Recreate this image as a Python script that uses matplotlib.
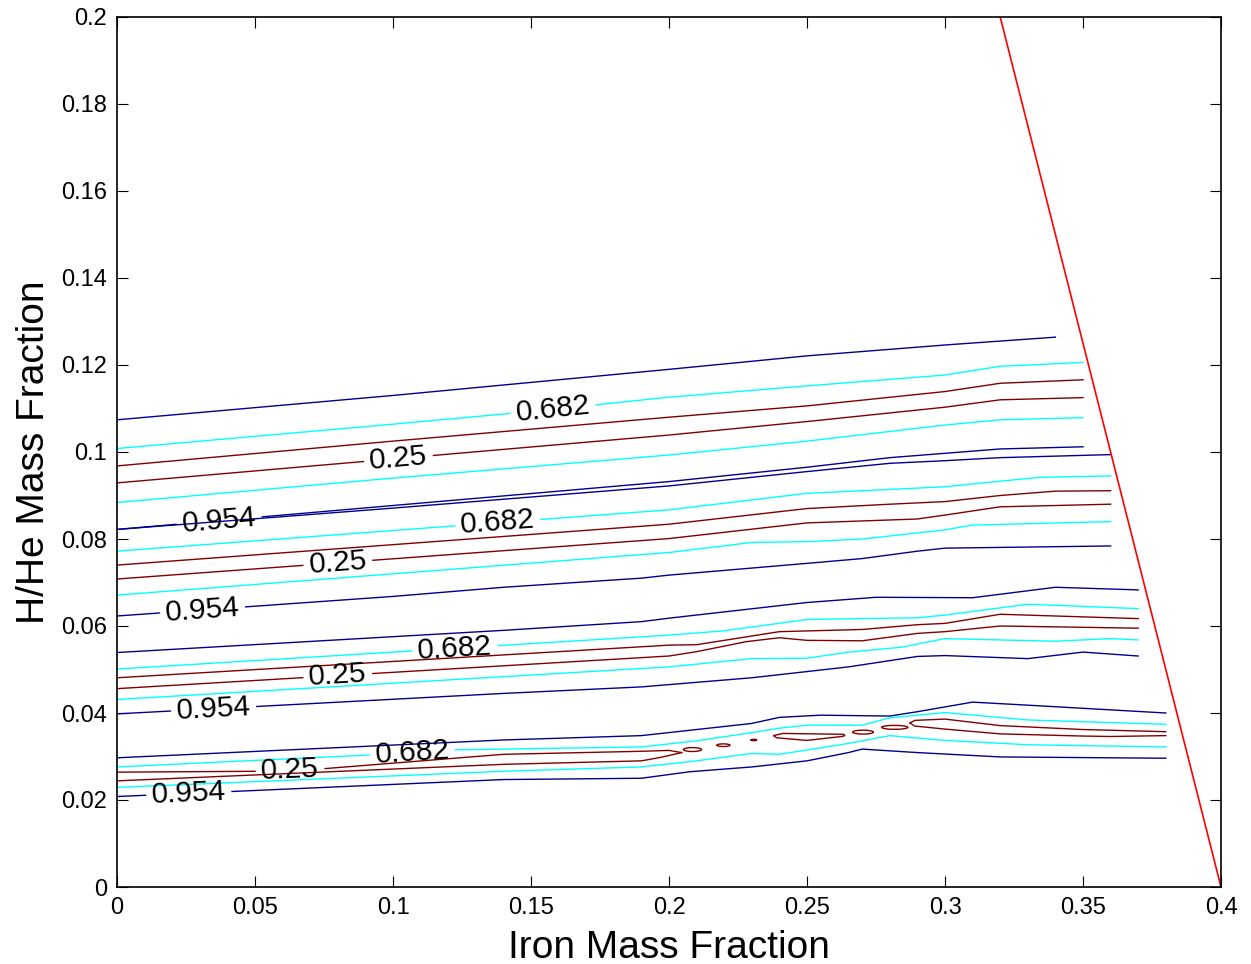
import numpy as np
import matplotlib
matplotlib.use('Agg')
import matplotlib.pyplot as plt
from matplotlib.patches import Ellipse, Polygon

# contour levels and their colours
levels = ['0.954', '0.682', '0.25']
level_colors = {'0.954': '#00008f', '0.682': '#00ffff', '0.25': '#800000'}

# group 1 (top band)
g1_b1_x = [0, 0.10, 0.20, 0.25, 0.30, 0.34]
g1_b1_y = [0.1074, 0.1130, 0.1190, 0.1221, 0.1246, 0.1264]
g1_c1_x = [0, 0.10, 0.15, 0.20, 0.25, 0.30, 0.32, 0.35]
g1_c1_y = [0.1008, 0.1064, 0.1093, 0.1126, 0.1152, 0.1177, 0.1197, 0.1206]
g1_r1_x = [0, 0.10, 0.20, 0.25, 0.30, 0.32, 0.35]
g1_r1_y = [0.0968, 0.1025, 0.1080, 0.1106, 0.1139, 0.1158, 0.1166]
g1_r2_x = [0, 0.10, 0.20, 0.25, 0.30, 0.32, 0.35]
g1_r2_y = [0.0929, 0.0984, 0.1039, 0.1070, 0.1103, 0.1120, 0.1125]
g1_c2_x = [0, 0.10, 0.20, 0.25, 0.30, 0.32, 0.35]
g1_c2_y = [0.0884, 0.0940, 0.0993, 0.1025, 0.1062, 0.1074, 0.1079]
g1_b2_x = [0, 0.10, 0.20, 0.25, 0.28, 0.30, 0.32, 0.35]
g1_b2_y = [0.0822, 0.0877, 0.0932, 0.0965, 0.0987, 0.0997, 0.1007, 0.1012]

# group 2
g2_b1_x = [0, 0.10, 0.20, 0.25, 0.28, 0.30, 0.32, 0.36]
g2_b1_y = [0.0822, 0.0871, 0.0922, 0.0955, 0.0974, 0.0980, 0.0987, 0.0994]
g2_c1_x = [0, 0.20, 0.25, 0.30, 0.32, 0.335, 0.36]
g2_c1_y = [0.0772, 0.0867, 0.0905, 0.0920, 0.0933, 0.0942, 0.0945]
g2_r1_x = [0, 0.20, 0.25, 0.28, 0.30, 0.32, 0.34, 0.36]
g2_r1_y = [0.0740, 0.0834, 0.0870, 0.0880, 0.0886, 0.0900, 0.0910, 0.0911]
g2_r2_x = [0, 0.20, 0.25, 0.29, 0.30, 0.32, 0.36]
g2_r2_y = [0.0708, 0.0801, 0.0837, 0.0846, 0.0855, 0.0874, 0.0880]
g2_c2_x = [0, 0.20, 0.23, 0.25, 0.27, 0.30, 0.31, 0.36]
g2_c2_y = [0.0671, 0.0769, 0.0792, 0.0794, 0.0800, 0.0821, 0.0832, 0.0840]
g2_b2_x = [0, 0.10, 0.14, 0.19, 0.20, 0.25, 0.27, 0.29, 0.30, 0.36]
g2_b2_y = [0.0623, 0.0668, 0.0689, 0.0710, 0.0717, 0.0744, 0.0755, 0.0772, 0.0779, 0.0784]

# group 3
g3_b1_x = [0, 0.14, 0.19, 0.20, 0.25, 0.275, 0.31, 0.34, 0.37]
g3_b1_y = [0.0539, 0.0590, 0.0610, 0.0618, 0.0654, 0.0666, 0.0665, 0.0689, 0.0683]
g3_c1_x = [0, 0.20, 0.22, 0.25, 0.29, 0.30, 0.33, 0.37]
g3_c1_y = [0.0501, 0.0579, 0.0589, 0.0615, 0.0619, 0.0625, 0.0650, 0.0640]
g3_r1_x = [0, 0.20, 0.21, 0.24, 0.27, 0.29, 0.30, 0.32, 0.35, 0.37]
g3_r1_y = [0.0481, 0.0556, 0.0557, 0.0587, 0.0592, 0.0603, 0.0606, 0.0627, 0.0621, 0.0617]
g3_r2_x = [0, 0.20, 0.21, 0.228, 0.24, 0.25, 0.27, 0.29, 0.30, 0.32, 0.37]
g3_r2_y = [0.0456, 0.0531, 0.0541, 0.0564, 0.0573, 0.0567, 0.0566, 0.0583, 0.0587, 0.0600, 0.0595]
g3_c2_x = [0, 0.20, 0.23, 0.25, 0.265, 0.284, 0.30, 0.34, 0.36, 0.37]
g3_c2_y = [0.0431, 0.0506, 0.0525, 0.0526, 0.0540, 0.0551, 0.0571, 0.0565, 0.0571, 0.0568]
g3_b2_x = [0, 0.14, 0.19, 0.23, 0.265, 0.29, 0.30, 0.33, 0.35, 0.37]
g3_b2_y = [0.0398, 0.0445, 0.0460, 0.0481, 0.0506, 0.0530, 0.0532, 0.0525, 0.0540, 0.0531]

# group 4 (bottom band, 0.25 region broken into pieces)
g4_b1_x = [0, 0.14, 0.19, 0.20, 0.23, 0.24, 0.255, 0.28, 0.29, 0.31, 0.33, 0.38]
g4_b1_y = [0.0297, 0.0338, 0.0348, 0.0355, 0.0376, 0.0390, 0.0395, 0.0393, 0.0403, 0.0425, 0.0418, 0.0400]
g4_c1_x = [0, 0.09, 0.12, 0.19, 0.21, 0.23, 0.24, 0.25, 0.27, 0.28, 0.30, 0.33, 0.38]
g4_c1_y = [0.0276, 0.0303, 0.0315, 0.0322, 0.0336, 0.0355, 0.0365, 0.0372, 0.0372, 0.0389, 0.0401, 0.0384, 0.0374]
g4_r1a_x = [0, 0.05, 0.075, 0.14, 0.19, 0.20, 0.2046]
g4_r1a_y = [0.0264, 0.0266, 0.0272, 0.0305, 0.0312, 0.0314, 0.0309]
g4_r2a_x = [0, 0.14, 0.19, 0.197, 0.2046]
g4_r2a_y = [0.0244, 0.0282, 0.0290, 0.0298, 0.0309]
g4_r1b_x = [0.2873, 0.289, 0.30, 0.32, 0.35, 0.38]
g4_r1b_y = [0.0377, 0.0383, 0.0386, 0.0371, 0.0362, 0.0357]
g4_r2b_x = [0.2873, 0.289, 0.30, 0.32, 0.35, 0.36, 0.38]
g4_r2b_y = [0.0377, 0.0370, 0.0363, 0.0352, 0.0347, 0.0346, 0.0348]
g4_c2_x = [0, 0.14, 0.19, 0.21, 0.23, 0.24, 0.25, 0.265, 0.28, 0.30, 0.33, 0.38]
g4_c2_y = [0.0229, 0.0266, 0.0276, 0.0290, 0.0307, 0.0305, 0.0315, 0.0330, 0.0348, 0.0337, 0.0327, 0.0322]
g4_b2_x = [0, 0.054, 0.14, 0.19, 0.2076, 0.23, 0.25, 0.265, 0.27, 0.29, 0.32, 0.38]
g4_b2_y = [0.0208, 0.0223, 0.0247, 0.0250, 0.0265, 0.0276, 0.0290, 0.0309, 0.0317, 0.0309, 0.0299, 0.0296]

# small closed 0.25 islands in group 4
island_x = [0.2085, 0.2197, 0.2307, 0.2703, 0.2818]
island_y = [0.0316, 0.0326, 0.0338, 0.0356, 0.0367]
island_w = [0.0066, 0.0048, 0.0022, 0.0075, 0.0095]
island_h = [0.0009, 0.0006, 0.0003, 0.0009, 0.0009]
poly_x = [0.2378, 0.2414, 0.2632, 0.2638, 0.2626, 0.2499, 0.2390]
poly_y = [0.0348, 0.0353, 0.0351, 0.0348, 0.0346, 0.0337, 0.0343]

# red boundary line
bound_x = [0.32, 0.40]
bound_y = [0.20, 0.0]

xtick_vals = [0, 0.05, 0.1, 0.15, 0.2, 0.25, 0.3, 0.35, 0.4]
xtick_labels = ['0', '0.05', '0.1', '0.15', '0.2', '0.25', '0.3', '0.35', '0.4']
ytick_vals = [0, 0.02, 0.04, 0.06, 0.08, 0.1, 0.12, 0.14, 0.16, 0.18, 0.2]
ytick_labels = ['0', '0.02', '0.04', '0.06', '0.08', '0.1', '0.12', '0.14', '0.16', '0.18', '0.2']

# (x, y, level, label x or None)
lines = [
    (g1_b1_x, g1_b1_y, '0.954', None),
    (g1_c1_x, g1_c1_y, '0.682', 0.158),
    (g1_r1_x, g1_r1_y, '0.25', None),
    (g1_r2_x, g1_r2_y, '0.25', 0.102),
    (g1_c2_x, g1_c2_y, '0.682', None),
    (g1_b2_x, g1_b2_y, '0.954', 0.037),
    (g2_b1_x, g2_b1_y, '0.954', None),
    (g2_c1_x, g2_c1_y, '0.682', 0.138),
    (g2_r1_x, g2_r1_y, '0.25', None),
    (g2_r2_x, g2_r2_y, '0.25', 0.080),
    (g2_c2_x, g2_c2_y, '0.682', None),
    (g2_b2_x, g2_b2_y, '0.954', 0.031),
    (g3_b1_x, g3_b1_y, '0.954', None),
    (g3_c1_x, g3_c1_y, '0.682', 0.1225),
    (g3_r1_x, g3_r1_y, '0.25', None),
    (g3_r2_x, g3_r2_y, '0.25', 0.080),
    (g3_c2_x, g3_c2_y, '0.682', None),
    (g3_b2_x, g3_b2_y, '0.954', 0.035),
    (g4_b1_x, g4_b1_y, '0.954', None),
    (g4_c1_x, g4_c1_y, '0.682', 0.107),
    (g4_r1a_x, g4_r1a_y, '0.25', 0.0627),
    (g4_r2a_x, g4_r2a_y, '0.25', None),
    (g4_r1b_x, g4_r1b_y, '0.25', None),
    (g4_r2b_x, g4_r2b_y, '0.25', None),
    (g4_c2_x, g4_c2_y, '0.682', None),
    (g4_b2_x, g4_b2_y, '0.954', 0.026),
]

plt.rcParams['font.family'] = ['Liberation Sans', 'DejaVu Sans']

fig = plt.figure(figsize=(12.51, 9.64), dpi=100)
ax = fig.add_axes([117 / 1251, 77 / 964, 1104 / 1251, 870 / 964])
ax.set_xlim(0, 0.4)
ax.set_ylim(0, 0.2)
fig.canvas.draw()
renderer = fig.canvas.get_renderer()


def draw_line(xs, ys, color, label=None, lx=None):
    xs = np.asarray(xs, dtype=float)
    ys = np.asarray(ys, dtype=float)
    if label is None:
        ax.plot(xs, ys, color=color, lw=1.0)
        return
    ly = np.interp(lx, xs, ys)
    p1 = ax.transData.transform((lx - 0.01, np.interp(lx - 0.01, xs, ys)))
    p2 = ax.transData.transform((lx + 0.01, np.interp(lx + 0.01, xs, ys)))
    ang = np.degrees(np.arctan2(p2[1] - p1[1], p2[0] - p1[0]))
    t = ax.text(lx, ly, label, fontsize=21.5, ha='center', va='center')
    w = t.get_window_extent(renderer).width
    t.set_rotation(ang)
    t.set_rotation_mode('anchor')
    px_per_x = (p2[0] - p1[0]) / 0.02
    half = (w / 2 + 6) * np.cos(np.radians(ang)) / px_per_x
    xa, xb = lx - half, lx + half
    left = xs < xa
    ax.plot(np.append(xs[left], xa), np.append(ys[left], np.interp(xa, xs, ys)),
            color=color, lw=1.0)
    right = xs > xb
    ax.plot(np.insert(xs[right], 0, xb), np.insert(ys[right], 0, np.interp(xb, xs, ys)),
            color=color, lw=1.0)


for xs, ys, lev, lx in lines:
    if lx is None:
        draw_line(xs, ys, level_colors[lev])
    else:
        draw_line(xs, ys, level_colors[lev], lev, lx)

for cx, cy, w, h in zip(island_x, island_y, island_w, island_h):
    ax.add_patch(Ellipse((cx, cy), w, h, fill=False, edgecolor=level_colors['0.25'], lw=1.0))
ax.add_patch(Polygon(np.column_stack([poly_x, poly_y]), closed=True, fill=False,
                     edgecolor=level_colors['0.25'], lw=1.0))

ax.plot(bound_x, bound_y, color='red', lw=1.2, clip_on=True)

ax.set_xticks(xtick_vals)
ax.set_xticklabels(xtick_labels)
ax.set_yticks(ytick_vals)
ax.set_yticklabels(ytick_labels)
ax.tick_params(direction='in', length=8, width=0.8, top=True, right=True,
               labelsize=17, pad=7)
for s in ax.spines.values():
    s.set_linewidth(1.2)

ax.set_xlabel('Iron Mass Fraction', fontsize=28)
ax.set_ylabel('H/He Mass Fraction', fontsize=28)
ax.xaxis.set_label_coords(0.5, -0.049)
ax.yaxis.set_label_coords(-0.059, 0.5)

fig.savefig('out.png', dpi=100)
